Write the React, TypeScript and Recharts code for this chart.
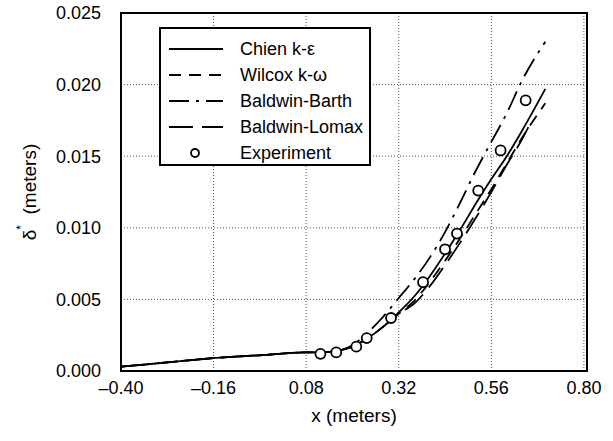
import React from 'react';
import {
  ComposedChart,
  Line,
  Scatter,
  XAxis,
  YAxis,
  CartesianGrid,
  ReferenceArea
} from 'recharts';

// model curves: x positions (m) and displacement thickness (m)
const modelX = [-0.40, -0.28, -0.16, -0.04, 0.08, 0.12, 0.16, 0.20, 0.24, 0.28, 0.32, 0.36, 0.40, 0.44, 0.48, 0.52, 0.56, 0.60, 0.64, 0.70];
const chienY = [0.0003, 0.0006, 0.0009, 0.0011, 0.0013, 0.0013, 0.0014, 0.0017, 0.0023, 0.0031, 0.0041, 0.0052, 0.0066, 0.0082, 0.0099, 0.0117, 0.0134, 0.0150, 0.0168, 0.0197];
const wilcoxY = [0.0003, 0.0006, 0.0009, 0.0011, 0.0013, 0.0013, 0.0014, 0.0017, 0.0023, 0.0031, 0.0040, 0.0049, 0.0062, 0.0077, 0.0093, 0.0110, 0.0127, 0.0145, 0.0163, 0.0187];
const barthY = [0.0003, 0.0006, 0.0009, 0.0011, 0.0013, 0.0013, 0.0014, 0.0018, 0.0027, 0.0038, 0.0051, 0.0064, 0.0079, 0.0097, 0.0118, 0.0140, 0.0160, 0.0180, 0.0203, 0.0230];
const lomaxX = [-0.40, -0.28, -0.16, -0.04, 0.08, 0.12, 0.16, 0.20, 0.24, 0.28, 0.32, 0.36, 0.40, 0.44, 0.48, 0.52, 0.56, 0.60, 0.64, 0.665];
const lomaxY = [0.0003, 0.0006, 0.0009, 0.0011, 0.0013, 0.0013, 0.0014, 0.0017, 0.0023, 0.0031, 0.0040, 0.0047, 0.0059, 0.0074, 0.0090, 0.0107, 0.0125, 0.0144, 0.0162, 0.0175];

// experiment
const expX = [0.117, 0.158, 0.21, 0.237, 0.30, 0.383, 0.44, 0.471, 0.526, 0.584, 0.649];
const expY = [0.0012, 0.0013, 0.0017, 0.0023, 0.0037, 0.0062, 0.0085, 0.0096, 0.0126, 0.0154, 0.0189];

const xTicks = [-0.40, -0.16, 0.08, 0.32, 0.56, 0.80];
const yTicks = [0, 0.005, 0.010, 0.015, 0.020, 0.025];

const seriesNames = ['Chien k-\u03b5', 'Wilcox k-\u03c9', 'Baldwin-Barth', 'Baldwin-Lomax', 'Experiment'];
const dashes = ['', '12 8', '20 7 3 7', '24 9'];

const FONT = '"Liberation Sans", Arial, Helvetica, sans-serif';

const toPts = (xs: number[], ys: number[]) => xs.map((x, i) => ({ x, y: ys[i] }));

const chienData = toPts(modelX, chienY);
const wilcoxData = toPts(modelX, wilcoxY);
const barthData = toPts(modelX, barthY);
const lomaxData = toPts(lomaxX, lomaxY);
const expData = toPts(expX, expY);

const fmtX = (v: number) => (v < 0 ? '\u2013' + Math.abs(v).toFixed(2) : v.toFixed(2));
const fmtY = (v: number) => v.toFixed(3);

const OpenCircle = (props: any) => (
  <circle cx={props.cx} cy={props.cy} r={5} fill="#fff" stroke="#000" strokeWidth={1.8} />
);

const YLabel = (props: any) => {
  const vb = props.viewBox;
  const cx = vb.x + 29;
  const cy = vb.y + vb.height / 2;
  return (
    <text
      x={cx}
      y={cy}
      transform={`rotate(-90 ${cx} ${cy})`}
      textAnchor="middle"
      dominantBaseline="central"
      fontFamily={FONT}
      fontSize={19}
      fill="#000"
    >
      {'\u03b4'}
      <tspan dy={-8} fontSize={12}>*</tspan>
      <tspan dy={8}>{'\u00a0\u00a0(meters)'}</tspan>
    </text>
  );
};

// legend box drawn over the plot, top-left
const LegendBox = () => (
  <div
    style={{
      position: 'absolute',
      left: 159,
      top: 27,
      width: 212,
      height: 139,
      border: '2px solid #000',
      background: '#fff',
      fontFamily: FONT,
      fontSize: 18,
      color: '#000',
      paddingTop: 7,
      boxSizing: 'border-box'
    }}
  >
    {seriesNames.map((name, i) => (
      <div key={name} style={{ display: 'flex', alignItems: 'center', height: 26 }}>
        <svg width={79} height={20} style={{ flex: 'none' }}>
          {i < 4 ? (
            <line x1={8} x2={62} y1={10} y2={10} stroke="#000" strokeWidth={1.8} strokeDasharray={dashes[i]} />
          ) : (
            <circle cx={34} cy={10} r={4} fill="#fff" stroke="#000" strokeWidth={1.8} />
          )}
        </svg>
        <span>{name}</span>
      </div>
    ))}
  </div>
);

export default function App() {
  return (
    <div style={{ position: 'absolute', left: 0, top: 0, width: 613, height: 441, background: '#fff' }}>
      <ComposedChart width={613} height={441} margin={{ top: 13, right: 26, bottom: 0, left: 0 }}>
        <CartesianGrid stroke="#555" strokeDasharray="1 2" />
        <XAxis
          type="number"
          dataKey="x"
          domain={[-0.4, 0.808]}
          ticks={xTicks}
          allowDataOverflow
          tickFormatter={fmtX}
          height={70}
          tickSize={0}
          tickMargin={10}
          axisLine={{ stroke: '#000', strokeWidth: 2 }}
          tick={{ fill: '#000', fontSize: 18, fontFamily: FONT }}
          label={{ value: 'x (meters)', position: 'insideBottom', offset: 19, fill: '#000', fontSize: 19, fontFamily: FONT }}
        />
        <YAxis
          type="number"
          dataKey="y"
          domain={[0, 0.025]}
          ticks={yTicks}
          tickFormatter={fmtY}
          width={121}
          tickSize={0}
          tickMargin={20}
          axisLine={{ stroke: '#000', strokeWidth: 2 }}
          tick={{ fill: '#000', fontSize: 18, fontFamily: FONT }}
          label={<YLabel />}
        />
        <ReferenceArea x1={-0.4} x2={0.808} y1={0} y2={0.025} fill="none" stroke="#000" strokeWidth={2} />
        <Line data={chienData} dataKey="y" name={seriesNames[0]} type="monotone" stroke="#000" strokeWidth={1.8} dot={false} isAnimationActive={false} />
        <Line data={wilcoxData} dataKey="y" name={seriesNames[1]} type="monotone" stroke="#000" strokeWidth={1.8} strokeDasharray={dashes[1]} dot={false} isAnimationActive={false} />
        <Line data={barthData} dataKey="y" name={seriesNames[2]} type="monotone" stroke="#000" strokeWidth={1.8} strokeDasharray={dashes[2]} dot={false} isAnimationActive={false} />
        <Line data={lomaxData} dataKey="y" name={seriesNames[3]} type="monotone" stroke="#000" strokeWidth={1.8} strokeDasharray={dashes[3]} dot={false} isAnimationActive={false} />
        <Scatter data={expData} dataKey="y" name={seriesNames[4]} shape={<OpenCircle />} isAnimationActive={false} />
      </ComposedChart>
      <LegendBox />
    </div>
  );
}
